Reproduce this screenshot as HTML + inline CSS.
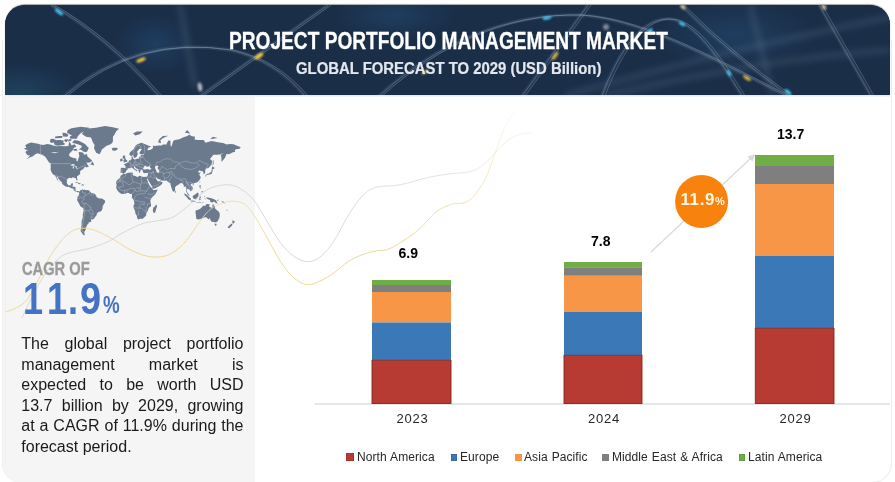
<!DOCTYPE html>
<html><head><meta charset="utf-8">
<style>
html,body{margin:0;padding:0;}
body{width:895px;height:482px;overflow:hidden;background:#fff;position:relative;font-family:"Liberation Sans",sans-serif;}
.abs{position:absolute;}
#card{left:2px;top:40px;width:888px;height:442px;border:1px solid #ededed;border-top:none;border-radius:0 0 20px 20px;background:#fff;}
#panel{left:2px;top:96px;width:253px;height:387px;background:#f5f5f5;border-bottom-left-radius:20px;box-shadow:inset 1px 0 0 #f0f0f0;}
#pline{left:5px;top:96px;width:1px;height:370px;background:#efefef;}
#header{left:5px;top:4.6px;width:885px;height:90.4px;border-radius:20px 20px 0 0;background:#172c48;overflow:hidden;box-shadow:0 -1px 1px rgba(0,0,0,0.35);}
.title{white-space:nowrap;color:#fff;font-weight:bold;transform-origin:0 0;}
#t1{left:229px;top:26.8px;font-size:24px;transform:scaleX(0.797);-webkit-text-stroke:0.3px #fff;}
#t2{left:295.5px;top:60px;-webkit-text-stroke:0.2px #e4e8ee;font-size:16px;color:#e4e8ee;transform:scaleX(0.93);}
.val{font-size:14px;font-weight:bold;color:#000;white-space:nowrap;}
.yr{font-size:13px;color:#262626;white-space:nowrap;letter-spacing:0.8px;}
.leg{font-size:12px;color:#262626;white-space:nowrap;top:449.7px;letter-spacing:0.08px;word-spacing:0.6px;}
.sq{width:7px;height:7px;top:454px;}
#para{left:21.3px;top:334.4px;width:222.2px;font-size:16px;line-height:20.5px;color:#1a1a1a;}
.pl{text-align:justify;text-align-last:justify;white-space:nowrap;height:20.5px;}
.pl.last{text-align-last:left;}
#cagr{left:21.7px;top:258.2px;font-size:19px;font-weight:bold;color:#9a9a9a;transform-origin:0 0;transform:scaleX(0.772);white-space:nowrap;-webkit-text-stroke:0.35px #9a9a9a;}
.dg{top:274px;font-size:44px;font-weight:bold;color:#4472c4;white-space:nowrap;transform-origin:0 0;transform:scaleX(0.82);}
#pct{left:103px;top:291px;font-size:24px;font-weight:bold;color:#4472c4;transform-origin:0 0;transform:scaleX(0.78);}
</style></head><body>
<div id="card" class="abs"></div>
<div id="panel" class="abs"></div><div id="pline" class="abs"></div>
<div id="header" class="abs">
<svg width="885" height="91" style="position:absolute;left:0;top:0">
<defs>
<filter id="bl4" x="-50%" y="-50%" width="200%" height="200%"><feGaussianBlur stdDeviation="3"/></filter>
<filter id="bl2" x="-50%" y="-50%" width="200%" height="200%"><feGaussianBlur stdDeviation="1.6"/></filter>
<filter id="bl1" x="-100%" y="-100%" width="300%" height="300%"><feGaussianBlur stdDeviation="0.9"/></filter>
<radialGradient id="glow1" cx="0.5" cy="0.5" r="0.5"><stop offset="0" stop-color="#2a6a8a" stop-opacity="0.55"/><stop offset="1" stop-color="#2a6a8a" stop-opacity="0"/></radialGradient>
<radialGradient id="glow2" cx="0.5" cy="0.5" r="0.5"><stop offset="0" stop-color="#2b5a8a" stop-opacity="0.35"/><stop offset="1" stop-color="#2b5a8a" stop-opacity="0"/></radialGradient>
</defs>
<rect width="885" height="91" fill="#1a2e48"/>
<ellipse cx="15" cy="88" rx="60" ry="30" fill="url(#glow1)" opacity="0.6"/>
<ellipse cx="150" cy="39" rx="40" ry="30" fill="url(#glow2)"/>
<ellipse cx="390" cy="10" rx="60" ry="25" fill="url(#glow2)"/>
<ellipse cx="730" cy="30" rx="80" ry="35" fill="url(#glow2)"/>
<g fill="none" stroke="#7d93ad" stroke-opacity="0.22" stroke-width="5" filter="url(#bl4)">
<path d="M175 0 L190 82"/>
<path d="M745 0 L768 91"/>
<path d="M560 91 Q700 50 885 12"/>
<path d="M600 91 Q750 55 885 45"/>
</g>
<g fill="none" stroke="#9fb6d0" stroke-opacity="0.10" stroke-width="4"><path d="M46 0 Q100 30 154 91"/><path d="M59 91 Q130 30 225 45 Q270 55 300 91"/><path d="M195 91 L323 0"/><path d="M374 91 C430 40 500 8 575 10 C640 14 720 60 791 96"/><path d="M517 91 L583 0"/><path d="M595 96 C615 40 640 12 665 14 C690 16 715 55 737 91"/><path d="M676 0 Q720 45 791 96"/><path d="M814 0 L866 91"/></g>
<g fill="none" stroke="#b4c6dc" stroke-opacity="0.32" stroke-width="0.9"><path d="M46 0 Q100 30 154 91"/><path d="M46 0 Q100 30 154 91" transform="translate(3.2 0)"/><path d="M59 91 Q130 30 225 45 Q270 55 300 91"/><path d="M59 91 Q130 30 225 45 Q270 55 300 91" transform="translate(3.2 0)"/><path d="M195 91 L323 0"/><path d="M195 91 L323 0" transform="translate(3.2 0)"/><path d="M374 91 C430 40 500 8 575 10 C640 14 720 60 791 96"/><path d="M374 91 C430 40 500 8 575 10 C640 14 720 60 791 96" transform="translate(3.2 0)"/><path d="M517 91 L583 0"/><path d="M517 91 L583 0" transform="translate(3.2 0)"/><path d="M595 96 C615 40 640 12 665 14 C690 16 715 55 737 91"/><path d="M595 96 C615 40 640 12 665 14 C690 16 715 55 737 91" transform="translate(3.2 0)"/><path d="M676 0 Q720 45 791 96"/><path d="M676 0 Q720 45 791 96" transform="translate(3.2 0)"/><path d="M814 0 L866 91"/><path d="M814 0 L866 91" transform="translate(3.2 0)"/></g>
<g filter="url(#bl1)">
<ellipse cx="54" cy="7" rx="5" ry="1.6" fill="#40d0ff" opacity="1" transform="rotate(38 54 7)"/>
<ellipse cx="136" cy="55" rx="5" ry="1.8" fill="#f0c040" opacity="1" transform="rotate(-22 136 55)"/>
<ellipse cx="195" cy="82" rx="2.2" ry="4.5" fill="#e0e0e0" opacity="0.75" transform="rotate(-10 195 82)"/>
<ellipse cx="254" cy="51" rx="5" ry="2" fill="#f0c840" opacity="1" transform="rotate(-35 254 51)"/>
<ellipse cx="420" cy="67" rx="4" ry="1.5" fill="#f0c840" opacity="0.7" transform="rotate(-35 420 67)"/>
<ellipse cx="542" cy="13" rx="4.5" ry="1.5" fill="#40d0ff" opacity="1" transform="rotate(-8 542 13)"/>
<ellipse cx="550" cy="51" rx="5" ry="1.8" fill="#f0c840" opacity="0.85" transform="rotate(-55 550 51)"/>
<ellipse cx="601" cy="22" rx="3" ry="3" fill="#e0e0e0" opacity="0.5" transform="rotate(0 601 22)"/>
<ellipse cx="645" cy="26" rx="3.5" ry="1.4" fill="#40d0ff" opacity="1" transform="rotate(-50 645 26)"/>
<ellipse cx="677" cy="19" rx="3.5" ry="1.4" fill="#40d0ff" opacity="1" transform="rotate(30 677 19)"/>
<ellipse cx="724" cy="68" rx="3.5" ry="1.4" fill="#40d0ff" opacity="1" transform="rotate(62 724 68)"/>
<ellipse cx="742" cy="73" rx="4.5" ry="1.8" fill="#f0c840" opacity="0.85" transform="rotate(35 742 73)"/>
<ellipse cx="783" cy="87" rx="4" ry="1.6" fill="#40d0ff" opacity="1" transform="rotate(40 783 87)"/>
<ellipse cx="678" cy="2" rx="3" ry="2" fill="#f0d0a0" opacity="0.8" transform="rotate(40 678 2)"/>
<ellipse cx="819" cy="2" rx="3" ry="2" fill="#f0d0a0" opacity="0.8" transform="rotate(60 819 2)"/>
</g>
</svg>
</div>
<div class="abs" style="left:5px;top:95px;width:885px;height:1.5px;background:linear-gradient(#dde8f1,#f3f7fa)"></div>
<div id="t1" class="abs title">PROJECT PORTFOLIO MANAGEMENT MARKET</div>
<div id="t2" class="abs title">GLOBAL FORECAST TO 2029 (USD Billion)</div>

<svg class="abs" style="left:0;top:0" width="895" height="482">
<path fill="#6c7a8e" d="M25.2 145.6L27.0 143.9L31.0 142.5L33.7 143.0L38.0 143.8L40.4 144.4L43.5 145.0L47.1 143.9L50.2 144.5L53.2 145.6L56.3 146.3L60.5 146.1L65.4 146.3L68.5 146.1L69.1 141.9L70.3 142.8L71.5 145.6L74.5 144.2L76.4 146.7L73.9 147.7L72.7 150.2L69.7 153.2L68.8 155.0L70.3 156.8L72.7 157.7L76.4 158.6L76.4 160.7L77.6 161.5L78.2 159.0L79.4 155.9L78.8 153.6L78.8 151.9L81.9 152.2L83.7 153.2L84.0 155.0L86.7 153.8L87.3 155.9L88.9 157.7L91.6 159.9L92.2 161.1L89.8 162.6L86.1 162.8L87.0 163.6L87.0 164.0L88.6 166.1L89.8 165.7L87.6 167.1L86.1 167.6L85.8 166.7L84.9 167.2L83.7 167.7L83.4 169.2L81.2 170.1L80.3 171.2L80.0 172.7L80.3 173.9L78.8 174.9L77.0 176.5L77.0 178.2L77.6 179.7L77.3 180.8L76.4 179.9L75.8 178.2L74.5 177.7L72.7 177.3L71.8 178.2L70.9 178.0L69.1 177.8L67.1 179.2L66.9 180.9L66.8 183.0L67.8 184.8L68.8 185.4L70.9 185.0L71.2 183.5L73.0 183.2L72.8 185.2L72.5 186.8L74.5 186.8L75.6 187.4L75.5 189.9L76.4 191.2L77.9 190.9L79.2 191.5L78.9 192.3L77.6 192.3L75.8 191.6L74.1 190.6L73.0 188.7L70.6 188.0L68.8 186.7L67.2 186.9L64.8 186.0L62.2 184.0L62.1 182.6L60.5 180.9L58.7 179.0L57.6 176.5L56.5 176.9L57.5 178.6L58.1 180.9L59.3 182.2L58.1 181.2L56.9 179.2L56.3 177.8L55.1 175.8L54.1 174.8L52.9 174.4L52.0 172.7L50.9 170.9L50.6 169.0L50.8 166.0L50.4 164.1L51.4 163.6L49.0 162.4L47.1 159.4L45.3 156.8L42.9 155.2L41.1 154.4L37.4 153.3L35.0 154.6L33.7 155.5L32.5 156.4L30.1 157.3L27.7 158.6L26.1 159.0L28.3 157.4L30.1 155.5L27.7 155.3L26.1 153.6L25.5 152.2L26.1 151.0L28.3 150.0L25.2 149.6L24.0 148.6L26.4 147.7ZM88.9 147.7L87.3 151.2L86.1 152.2L83.1 151.4L81.2 149.7L78.8 149.9L81.9 146.7L81.2 145.6L77.0 143.9L72.1 142.8L74.5 139.9L78.8 140.8L83.7 143.2L85.5 144.5L87.9 147.2ZM53.8 142.5L54.8 145.0L57.5 145.7L61.8 145.3L64.5 144.8L64.9 143.4L63.0 142.2L64.1 140.7L60.5 140.1L56.9 140.1L54.1 141.1ZM69.7 134.2L72.7 136.1L77.6 136.4L80.3 133.5L83.7 131.4L87.9 129.2L89.2 127.7L80.6 126.8L71.5 128.2L67.8 130.0L67.8 132.8ZM49.9 141.8L51.4 142.9L54.1 142.2L56.0 140.1L53.5 138.8L50.5 139.0ZM70.3 138.7L77.0 138.7L77.6 136.5L71.5 135.8L69.7 136.4ZM68.2 141.7L71.5 140.5L71.5 139.2L68.5 139.3ZM55.1 138.3L62.1 138.0L62.4 136.1L59.3 135.9L55.1 136.4ZM63.0 136.5L67.2 136.8L68.5 134.8L65.4 133.1L62.4 132.8ZM67.2 133.5L70.9 133.5L70.9 130.0L67.2 130.7ZM64.2 141.1L66.6 142.2L67.8 140.8L67.8 139.3L64.8 139.3ZM73.9 150.7L77.6 150.7L76.4 148.7L73.3 149.2ZM81.9 133.9L86.1 136.7L91.0 137.4L92.8 142.2L94.6 145.0L94.0 148.2L96.2 152.7L99.5 154.3L100.7 152.2L102.0 149.2L103.5 148.2L106.2 146.1L111.1 143.9L112.9 141.7L112.9 136.8L114.7 134.2L116.0 131.4L119.0 128.8L112.9 127.3L105.0 126.0L95.9 127.7L88.6 128.5L83.7 131.4ZM111.7 148.7L112.9 147.8L116.6 147.7L118.1 149.0L115.3 150.8L112.6 150.4ZM90.2 164.7L92.5 161.5L94.0 164.4L94.0 165.4L92.2 164.8ZM74.5 183.0L76.4 182.2L79.4 182.9L81.1 184.1L79.1 184.3L77.6 183.0L75.2 183.1ZM80.9 185.2L82.5 184.3L84.6 185.1L83.1 185.5ZM79.2 191.5L80.0 191.0L80.3 190.3L81.9 189.7L82.8 189.1L83.1 189.9L84.3 189.6L86.1 190.2L87.9 190.1L89.2 190.6L89.8 191.5L91.6 193.1L94.0 193.4L95.3 194.3L95.9 195.7L97.1 197.4L99.5 198.4L102.0 198.6L103.8 199.7L105.0 200.6L105.0 202.4L103.8 204.3L102.6 206.2L102.6 208.2L101.6 210.4L100.7 211.4L98.9 211.8L96.8 213.4L96.7 215.1L95.3 216.8L94.0 218.7L92.8 219.6L91.0 219.2L91.3 221.7L88.6 222.4L88.4 223.9L86.7 225.0L87.0 225.4L86.4 226.9L85.2 228.1L86.1 229.3L84.6 231.3L84.3 232.9L84.6 234.6L85.5 235.1L83.7 235.3L82.5 233.8L80.6 230.9L81.2 227.7L81.6 224.6L81.6 221.0L82.8 217.5L82.8 214.7L83.6 210.7L83.4 208.2L80.3 206.2L79.4 204.3L77.9 201.5L77.0 199.9L77.6 198.1L77.3 197.1L78.3 195.9L79.2 194.3L79.1 192.5ZM120.5 172.7L120.8 168.3L121.4 167.7L125.4 168.0L125.6 166.0L123.6 164.4L125.4 163.8L127.2 162.8L128.4 161.7L129.4 160.3L131.5 159.6L131.5 158.1L131.3 156.8L132.7 156.3L132.7 157.7L133.6 159.0L134.8 159.4L137.3 158.8L139.1 158.6L139.1 156.8L140.9 156.4L140.6 154.8L143.4 154.6L144.6 154.1L140.3 154.1L139.4 153.6L139.7 152.2L141.8 149.2L139.7 148.4L137.0 151.7L137.9 154.1L137.3 155.0L136.4 157.3L134.2 158.1L133.6 156.4L133.0 155.0L131.2 155.9L129.7 155.2L129.4 153.2L130.6 151.7L133.6 149.2L135.4 146.1L137.3 144.2L141.5 142.8L144.6 143.9L146.4 144.7L151.3 146.7L148.2 147.7L147.3 150.2L149.5 149.9L150.7 149.7L153.1 147.9L152.8 145.6L154.3 146.1L158.6 145.6L161.6 145.4L162.9 144.5L166.5 144.5L167.1 142.8L168.3 140.5L170.5 140.7L170.5 145.6L171.4 146.7L173.2 141.1L175.0 139.9L179.3 139.3L182.9 137.4L187.2 136.1L189.6 134.6L191.2 136.1L195.1 136.8L194.5 139.6L198.2 139.9L203.7 139.9L205.5 142.8L211.6 141.1L217.7 142.2L223.1 143.0L226.8 144.4L229.8 143.9L233.5 144.2L235.9 145.3L240.8 147.2L239.6 148.7L235.9 149.2L234.7 150.2L235.3 151.7L232.3 152.4L229.8 154.1L226.2 154.3L225.6 156.4L225.0 157.7L221.6 162.0L221.3 156.8L220.7 155.0L223.8 152.7L220.1 154.6L217.1 154.7L213.4 154.7L210.0 159.0L212.2 161.1L211.6 164.4L208.5 167.9L206.1 168.6L205.2 170.1L205.2 173.0L203.4 174.4L203.4 172.3L202.4 170.9L200.3 171.2L200.3 169.9L198.2 171.2L198.8 172.7L200.9 172.7L199.1 174.4L200.5 176.5L200.6 178.2L199.1 180.6L197.3 182.2L193.9 183.2L193.3 183.9L192.1 183.2L190.9 184.2L190.6 185.2L192.6 187.1L192.7 189.6L190.3 191.4L190.0 190.3L187.5 188.4L186.7 190.6L187.4 192.8L189.3 194.9L189.6 196.0L187.8 195.1L186.3 191.8L186.2 189.3L185.7 186.4L183.9 186.8L183.6 184.8L182.3 183.2L180.5 182.9L179.0 184.2L176.2 186.1L175.0 187.4L175.2 190.4L173.8 191.8L172.9 191.5L171.4 187.7L170.6 184.8L170.5 183.2L168.9 182.6L168.0 181.9L166.8 180.6L164.1 180.8L161.2 180.4L160.6 179.6L158.0 179.0L156.8 177.6L155.5 177.6L156.5 179.6L157.7 181.2L159.2 181.4L160.4 180.1L160.7 181.6L162.7 182.6L161.9 183.9L160.1 185.8L158.0 186.8L155.8 188.0L153.7 188.8L152.7 188.9L152.3 187.1L150.1 183.2L148.8 180.9L147.6 178.9L147.3 177.9L146.1 177.6L147.3 176.5L147.6 175.5L148.2 173.4L147.3 172.8L144.9 173.2L143.4 172.8L142.8 171.6L142.5 170.3L142.1 169.8L140.9 169.9L140.3 170.9L140.0 173.0L139.4 172.7L138.5 170.7L138.2 169.2L135.8 167.9L134.5 166.2L133.8 166.5L133.9 167.5L134.8 168.8L136.1 169.5L137.6 170.3L136.4 170.9L136.1 171.9L135.8 170.5L133.6 169.0L132.7 168.3L131.5 167.3L130.3 168.2L128.3 168.0L128.3 169.0L126.6 170.1L126.0 171.6L125.1 172.8L123.0 173.4L122.4 172.8ZM116.0 183.5L116.3 181.6L117.5 179.9L118.4 179.0L120.3 177.7L120.5 175.8L122.4 174.8L123.0 173.5L125.1 173.9L128.1 172.8L132.4 172.4L133.0 173.7L132.5 174.8L133.3 175.5L135.4 176.0L137.9 177.3L138.5 176.2L140.3 175.8L141.5 176.4L144.0 176.9L145.8 176.7L147.2 176.7L147.6 177.9L146.7 179.2L147.9 181.6L149.0 184.8L149.8 185.5L150.7 187.1L152.7 189.0L153.1 190.3L157.5 189.4L157.4 190.3L155.5 194.0L151.9 197.4L150.4 199.9L150.4 201.8L151.0 203.7L151.0 206.2L148.8 207.8L147.8 210.7L146.4 213.3L146.1 215.4L144.9 216.8L142.8 218.7L140.0 218.8L138.5 219.4L137.5 218.7L136.7 215.7L135.4 213.4L135.1 211.1L133.5 207.8L133.6 205.3L134.5 203.7L133.8 200.6L131.8 197.4L132.1 194.6L131.5 194.0L130.0 194.1L129.1 192.9L127.2 193.0L125.1 193.8L121.7 194.1L119.3 192.5L118.1 191.2L117.2 189.9L116.0 187.5L116.3 186.4L116.6 184.5ZM156.3 204.3L157.1 206.6L156.5 207.8L155.2 212.6L153.7 213.1L152.8 210.7L153.3 207.5L154.9 206.6ZM122.8 162.8L127.2 161.8L127.3 160.5L126.3 159.9L125.1 157.8L125.2 156.3L124.5 155.4L123.3 155.4L122.5 157.0L123.3 158.6L124.5 159.4L123.6 160.0L123.3 161.4L124.5 161.7ZM120.2 161.5L122.7 161.1L122.7 159.4L121.7 158.3L120.2 159.3ZM175.0 190.7L176.1 192.1L175.3 193.1L174.9 191.8ZM206.0 174.9L208.5 174.8L211.6 174.1L212.2 171.9L212.8 170.5L212.5 169.5L211.6 170.1L211.3 171.9L209.7 172.7L209.1 173.6L207.3 173.7L206.1 174.4ZM211.6 169.4L212.2 166.4L214.9 168.0L213.4 169.0ZM205.3 175.1L206.4 174.9L206.1 176.7L205.5 176.6ZM199.7 182.9L200.5 180.9L199.5 181.9ZM199.4 185.2L200.9 185.3L200.3 187.4L201.8 188.7L199.7 188.0ZM200.6 192.5L203.0 192.1L203.4 191.2L201.5 191.5ZM184.3 193.3L186.0 194.3L189.6 197.4L190.9 198.7L190.7 200.4L188.4 199.3L186.6 197.1L184.5 194.9ZM190.4 201.1L192.1 200.6L194.5 201.1L196.0 201.7L192.1 201.7ZM192.7 195.9L193.9 195.3L195.4 194.3L197.6 192.5L198.8 193.7L198.2 196.2L197.3 198.1L197.0 199.3L193.6 198.7L192.7 197.1ZM199.1 200.2L199.7 196.5L202.1 196.0L200.0 196.2L201.2 197.3L200.0 198.1L201.2 199.9L200.0 199.6L199.7 200.2ZM206.1 197.4L207.9 197.4L210.4 197.9L212.2 198.4L214.6 199.5L216.1 200.6L217.7 203.4L215.8 203.1L214.0 201.6L212.2 202.4L210.4 202.0L210.0 199.9L208.5 199.5L206.7 198.6ZM195.4 210.7L195.7 213.4L196.3 218.8L198.2 219.6L201.5 218.7L204.9 217.2L206.7 217.5L208.5 219.4L210.0 218.1L210.4 219.9L211.6 221.7L214.0 222.1L215.5 222.4L217.7 221.3L219.5 217.5L219.8 214.7L219.5 212.7L218.0 211.1L215.2 208.8L214.8 206.2L213.7 205.6L213.1 203.5L212.5 205.0L212.5 207.5L211.3 207.8L209.1 206.6L209.7 204.3L207.3 204.0L205.8 204.6L205.2 206.2L203.4 205.6L201.8 207.2L200.6 208.5L198.8 209.4L197.3 209.9ZM196.0 201.9L197.3 201.9L197.3 202.4L196.0 202.3ZM197.6 201.9L201.1 201.9L201.1 202.4L197.6 202.5ZM201.5 202.9L203.8 202.0L203.7 202.4L201.8 203.3ZM192.4 184.7L193.6 184.1L193.9 184.5L193.0 185.4ZM221.3 200.9L223.8 201.8L225.0 203.4L223.1 202.8L221.6 201.5ZM226.2 209.6L228.0 210.7L227.7 211.1L226.2 210.0ZM216.7 200.2L218.9 199.4L219.0 199.9L217.7 200.7ZM204.0 195.7L204.6 195.9L204.4 197.3L204.0 197.1ZM204.3 198.7L206.0 198.7L206.0 199.2L204.3 199.1ZM214.4 223.7L216.6 223.8L216.4 225.4L215.2 225.8ZM231.5 219.2L232.9 220.6L235.0 221.5L234.1 222.8L232.9 224.3L232.6 222.8L232.2 222.4L232.6 220.8ZM231.5 223.5L232.5 224.4L231.7 226.0L230.5 226.9L229.2 228.2L227.7 227.7L228.6 226.1L230.5 224.6ZM133.0 133.5L136.7 131.4L142.8 131.4L139.7 134.2L135.4 135.5ZM158.0 142.2L161.0 143.2L160.4 139.9L164.1 137.4L168.3 135.8L162.9 136.1L159.2 139.3ZM184.8 132.8L190.3 133.5L187.2 130.0ZM210.4 139.3L217.7 138.0L212.8 136.8ZM212.8 166.0L213.7 163.6L213.4 159.4L212.8 161.1Z"/>
<path fill="#f5f5f5" d="M143.4 169.4L143.1 168.3L143.7 167.5L144.9 165.6L146.4 166.0L146.7 167.1L148.5 166.5L149.8 165.2L150.4 165.2L149.5 166.7L151.6 169.0L149.5 169.8L147.6 169.0L145.2 169.6ZM154.9 166.7L156.8 165.6L158.6 166.3L157.4 167.9L158.3 169.2L159.2 170.5L159.2 172.4L156.8 172.7L156.3 170.5L155.2 168.6ZM70.3 165.4L72.7 164.0L74.5 164.4L74.9 165.6L72.7 165.7ZM73.0 169.2L73.9 167.5L74.5 166.0L72.7 166.7L72.8 168.3ZM75.2 166.0L77.3 166.7L76.4 167.9L75.5 167.1ZM75.8 169.0L78.2 168.4L78.2 167.9L76.7 168.4ZM50.2 152.2L56.3 152.2L59.3 151.7L55.1 153.2ZM53.2 147.7L54.5 147.2L52.0 148.2Z"/>
<path fill="none" stroke="#e8ecf2" stroke-opacity="0.6" stroke-width="0.45" stroke-linejoin="round" d="M51.4 163.6L68.5 163.6L68.5 163.3L71.8 164.4L74.9 165.6L76.1 166.7L76.1 169.0L78.2 168.3L80.0 167.5L80.9 166.7L83.1 166.7L84.3 164.9L85.0 165.2L85.5 166.7M40.4 144.4L40.4 153.8L42.9 155.0L45.3 158.6M55.1 175.8L56.5 175.7L58.7 176.7L60.5 176.7L61.5 176.3L63.6 178.2L64.5 177.7L65.7 179.2L67.1 180.3M70.3 187.1L72.1 185.6M72.1 187.7L73.9 189.0L75.5 189.9M89.8 193.7L87.3 194.3L85.5 195.6L83.7 196.2L84.0 199.4L81.9 201.5L82.2 203.1L84.0 203.7L86.1 203.1L86.7 204.3L88.9 205.3L89.8 207.2L91.0 207.2L91.0 209.4L92.5 211.1L93.1 213.1L93.5 214.1L91.6 216.1L93.7 218.5M84.6 210.7L84.6 214.1L83.7 217.5L83.1 223.1L82.6 226.1L82.2 229.3L81.9 230.9L84.3 232.5M84.0 203.7L84.3 206.2L84.0 207.8L84.6 210.7L88.2 210.7L91.0 209.4M82.8 189.3L82.2 192.5L85.2 193.1L85.5 195.6M78.2 196.0L80.6 196.8L83.7 199.3M77.6 199.0L78.8 198.7L80.3 197.8M89.8 191.5L89.2 193.7M91.6 193.1L91.0 195.9M93.4 193.3L93.1 195.6M91.3 216.1L91.0 218.8M88.2 210.7L89.8 212.7L91.0 214.1L92.8 214.1M143.4 144.5L144.6 146.7L144.3 152.7L143.4 154.6M143.4 157.7L145.8 160.7L149.5 162.8L150.7 164.4L149.8 165.2M155.2 166.3L156.8 162.0L159.8 162.0L163.5 159.4L167.7 158.6L170.8 159.4L173.8 162.0L177.5 162.0L179.3 163.6M179.3 163.6L181.1 162.4L186.0 161.1L192.1 163.2L197.0 162.8L199.4 160.3L203.7 162.8L208.5 164.4L206.1 168.3L205.8 168.6M179.3 163.6L181.7 166.7L184.8 168.5L190.3 169.4L194.5 168.6L199.4 165.2L197.0 162.8M158.6 169.4L160.4 169.5L161.9 166.3L164.1 167.9L167.7 169.8L169.6 168.4L175.0 168.6L175.3 166.7L176.9 165.2L179.3 163.6M171.1 170.9L172.0 172.7L173.8 174.1L174.4 175.8L175.6 177.6L179.9 179.2L182.3 179.0L185.4 178.7L186.3 180.9L186.0 182.9L187.8 183.2L189.0 182.4L191.3 182.4L192.1 183.2M158.9 172.4L161.0 171.9L163.5 173.0L164.4 173.9L165.6 172.7L167.4 172.4L169.9 172.7L171.1 170.9M153.1 170.9L153.7 174.1L154.3 175.5L155.5 177.6M163.5 173.0L163.2 175.1L163.5 176.5L164.7 177.9L163.8 180.8M169.9 172.7L169.6 174.8L168.6 176.9L166.8 177.9L164.7 177.9M171.1 173.4L172.3 175.8L171.4 177.6L169.6 178.9L169.6 181.2L168.0 181.8M179.9 179.2L180.8 180.3L182.6 180.9L183.6 182.2L182.5 183.5M186.3 180.9L187.8 184.2L186.3 186.4L186.3 190.6M187.8 183.2L189.6 185.5L191.5 187.7L190.9 189.9M187.8 184.2L189.6 186.8L189.0 188.7L190.3 191.4M148.2 173.0L151.9 172.7L153.4 172.3L153.1 170.9M147.6 177.9L149.1 177.6L150.1 176.2L153.1 178.2L155.2 178.2M152.3 186.1L154.6 186.1L158.0 184.8L160.1 182.9L160.4 181.6M150.1 176.2L151.3 174.4L151.9 172.7M125.2 168.0L128.3 168.6M122.0 169.0L122.0 172.3M127.8 162.0L130.0 163.2L131.2 163.6L130.9 164.8L130.0 165.8L130.6 167.5M135.0 159.4L135.3 162.0L133.6 162.5L134.7 163.8L133.9 164.7L132.1 164.8L130.9 164.8M130.6 160.0L130.0 161.3L130.0 162.8M131.5 158.7L132.4 158.8M130.6 166.0L132.7 165.6L134.7 165.6M134.7 163.8L136.7 164.4L136.4 165.6L134.7 165.6M140.6 159.2L140.6 161.1L140.9 162.4L140.0 163.6M135.3 162.0L137.6 162.8L140.0 163.6M140.0 164.4L142.5 164.1L143.5 166.3M136.7 164.4L140.0 164.4M136.4 165.6L138.5 166.0L140.0 167.1L143.4 167.6M138.2 169.2L139.7 169.5L142.5 169.4M139.1 156.8L143.4 157.7M139.1 158.6L142.1 157.7M140.9 156.4L143.1 156.4L143.4 154.6M133.6 155.0L133.9 152.7L133.6 150.4L135.1 148.2L137.3 145.6L138.8 145.0M140.9 148.4L140.6 146.1L138.8 145.0M125.3 174.1L125.4 176.2L121.0 179.1M118.4 179.1L121.0 179.1L121.0 180.3L119.0 180.3L119.0 182.0L116.0 183.3M119.0 182.0L122.7 180.9L123.3 186.4L119.0 187.5L116.3 186.6M131.5 172.8L131.2 175.5L132.1 177.6L132.4 181.0L133.6 181.9L135.4 182.2M123.4 180.9L126.9 183.5L128.7 184.7L130.0 184.5L133.6 181.9M141.5 176.4L141.5 182.9L140.9 184.2M141.5 182.9L148.8 182.9M135.4 182.2L140.9 184.5L140.9 184.2M140.9 184.5L140.0 188.7L140.6 190.9M140.6 190.9L147.0 190.9L148.5 187.8L149.8 185.5M155.5 191.8L153.7 193.7L151.3 194.3L150.1 194.6L147.9 193.7M151.3 197.9L149.2 198.7L147.0 197.4L144.6 197.4M133.9 199.9L136.4 200.6L140.9 201.8L144.6 202.1L144.0 205.0L140.9 203.7L139.7 205.0M144.6 193.7L142.8 193.7L137.6 194.3L136.1 195.6L134.8 197.4L133.6 199.9M128.5 189.5L130.6 188.4L134.5 188.4L135.1 189.3L134.2 191.8L132.4 193.1L131.6 194.0M119.0 187.5L119.3 189.0L121.4 190.4L123.3 190.6L126.6 189.9L128.5 189.5M124.5 193.7L124.6 189.9M127.0 193.0L126.9 189.9M139.7 205.0L139.7 207.2L138.9 208.2L133.5 207.7M138.5 210.7L138.5 212.5L138.5 215.1L136.4 215.1M138.9 208.2L141.5 208.0L144.0 210.9L145.8 210.7M144.9 206.6L146.4 207.5L146.1 210.1L145.8 213.7M151.0 203.4L147.3 204.0L147.6 206.2M135.1 189.3L135.8 191.2L137.3 191.8L140.0 190.6M140.0 188.7L136.1 187.4M144.6 193.7L147.0 190.9"/>
<defs>
<linearGradient id="yfade" gradientUnits="userSpaceOnUse" x1="0" y1="240" x2="0" y2="100"><stop offset="0" stop-color="#ecd78f" stop-opacity="0.95"/><stop offset="0.5" stop-color="#efdd9f" stop-opacity="0.6"/><stop offset="1" stop-color="#efdd9f" stop-opacity="0.08"/></linearGradient>
<linearGradient id="gfade" gradientUnits="userSpaceOnUse" x1="300" y1="0" x2="540" y2="0"><stop offset="0" stop-color="#d4d4d4" stop-opacity="0.9"/><stop offset="0.6" stop-color="#d8d8d8" stop-opacity="0.7"/><stop offset="1" stop-color="#dadada" stop-opacity="0.25"/></linearGradient>
</defs>
<g fill="none" stroke-width="1">
<path stroke="url(#gfade)" d="M22.0 318.0 C23.7 314.5 28.0 304.5 32.0 297.0 C36.0 289.5 41.2 279.3 45.8 272.8 C50.3 266.3 55.2 261.4 59.3 258.0 C63.3 254.6 65.1 254.2 70.1 252.6 C75.0 251.0 82.7 250.3 89.0 248.5 C95.3 246.7 102.7 244.2 107.9 241.8 C113.1 239.4 115.9 236.6 120.0 234.3 C124.1 232.0 128.2 229.9 132.4 228.0 C136.6 226.1 140.1 224.2 144.9 222.9 C149.8 221.6 156.7 221.2 161.5 220.2 C166.3 219.2 169.8 218.8 173.9 216.7 C178.1 214.5 182.9 210.1 186.4 207.3 C189.9 204.5 191.2 202.9 194.7 200.0 C198.1 197.1 202.9 192.1 207.1 189.7 C211.2 187.3 215.8 186.4 219.6 185.6 C223.4 184.8 226.6 184.4 230.0 184.9 C233.4 185.4 236.4 186.2 240.3 188.7 C244.2 191.2 249.1 194.3 253.5 199.7 C257.9 205.1 262.5 214.1 267.0 221.3 C271.5 228.5 276.0 237.1 280.5 242.9 C285.0 248.7 289.5 253.2 294.0 256.3 C298.5 259.4 303.0 261.7 307.5 261.7 C312.0 261.7 316.5 259.9 321.0 256.3 C325.5 252.7 329.9 246.9 334.4 240.2 C338.9 233.5 343.5 223.1 348.0 215.9 C352.5 208.7 356.9 201.7 361.4 197.0 C365.9 192.3 368.6 189.5 375.0 187.5 C381.4 185.5 391.4 186.4 400.0 184.8 C408.6 183.2 418.6 179.6 426.7 177.8 C434.8 176.0 441.2 175.0 448.5 174.0 C455.8 173.0 464.6 173.0 470.3 171.6 C476.0 170.2 478.6 168.5 482.7 165.4 C486.8 162.3 491.0 157.1 495.2 152.9 C499.4 148.8 503.5 143.6 507.6 140.5 C511.7 137.4 515.9 135.5 520.0 134.2 C524.1 132.9 530.4 132.9 532.5 132.7"/>
<path stroke="url(#yfade)" d="M5.4 312.0 C7.2 311.3 12.6 309.9 16.2 307.9 C19.8 305.9 23.4 304.3 27.0 299.8 C30.6 295.3 34.2 287.8 37.8 281.0 C41.4 274.2 44.9 265.6 48.5 259.3 C52.1 253.0 55.7 247.6 59.3 243.1 C62.9 238.6 66.5 234.9 70.1 232.4 C73.7 229.9 76.9 228.7 80.9 228.3 C85.0 227.9 89.9 228.8 94.4 230.2 C98.9 231.5 103.6 234.2 107.9 236.4 C112.2 238.6 115.9 241.2 120.0 243.6 C124.1 246.0 127.9 248.8 132.4 250.9 C136.9 253.0 142.2 255.1 147.0 256.1 C151.8 257.1 157.0 257.4 161.5 256.7 C166.0 256.0 169.8 254.6 173.9 251.9 C178.1 249.2 182.2 245.3 186.4 240.5 C190.6 235.7 195.0 227.9 198.8 222.9 C202.6 217.9 205.7 213.5 209.2 210.4 C212.7 207.3 215.8 205.8 219.6 204.2 C223.4 202.6 227.8 201.1 232.0 201.1 C236.2 201.1 240.9 202.0 244.5 204.2 C248.1 206.4 249.8 208.9 253.5 214.5 C257.2 220.1 262.5 229.6 267.0 237.5 C271.5 245.4 276.0 254.9 280.5 261.7 C285.0 268.4 289.5 274.2 294.0 278.0 C298.5 281.8 303.0 284.3 307.5 284.7 C312.0 285.1 316.5 282.6 321.0 280.6 C325.5 278.6 329.9 275.6 334.4 272.5 C338.9 269.4 343.5 264.6 348.0 261.7 C352.5 258.8 356.9 256.8 361.4 255.0 C365.9 253.2 370.1 252.2 375.0 251.0 C379.9 249.8 383.9 251.4 391.0 248.0 C398.1 244.6 409.9 236.7 417.4 230.7 C424.9 224.7 430.3 216.4 436.0 212.0 C441.7 207.6 446.9 205.9 451.6 204.3 C456.3 202.8 460.4 204.0 464.0 202.7 C467.6 201.4 469.8 200.7 473.4 196.5 C477.0 192.3 482.2 185.1 485.8 177.8 C489.4 170.5 492.1 161.2 495.2 152.9 C498.3 144.6 501.4 134.7 504.5 128.0 C507.6 121.3 511.3 116.1 513.9 112.5 C516.5 108.9 519.0 107.2 520.0 106.2"/>
</g>
</svg>

<div id="cagr" class="abs">CAGR OF</div>
<div class="abs dg" style="left:23.4px">1</div><div class="abs dg" style="left:46.6px">1</div><div class="abs dg" style="left:67.7px">.</div><div class="abs dg" style="left:79.6px;transform:scaleX(0.86)">9</div>
<div id="pct" class="abs">%</div>
<div id="para" class="abs"><div class="pl">The global project portfolio</div><div class="pl">management market is</div><div class="pl">expected to be worth USD</div><div class="pl">13.7 billion by 2029, growing</div><div class="pl">at a CAGR of 11.9% during the</div><div class="pl last">forecast period.</div></div>

<svg class="abs" style="left:0;top:0" width="895" height="482">
<line x1="315" y1="404" x2="890" y2="404" stroke="#dedede" stroke-width="1.5"/>
<rect x="372" y="280" width="79" height="5" fill="#70ad47"/>
<rect x="372" y="285" width="79" height="7" fill="#7f7f7f"/>
<rect x="372" y="292" width="79" height="30.5" fill="#f79646"/>
<rect x="372" y="322.5" width="79" height="37.5" fill="#3a78b8"/>
<rect x="372" y="360.3" width="79" height="43.2" fill="#b83b33" stroke="#82261f" stroke-width="0.9"/>
<rect x="564" y="262" width="78" height="5.3" fill="#70ad47"/>
<rect x="564" y="267.3" width="78" height="8.5" fill="#7f7f7f"/>
<rect x="564" y="275.8" width="78" height="36.2" fill="#f79646"/>
<rect x="564" y="312" width="78" height="43" fill="#3a78b8"/>
<rect x="564" y="355.3" width="78" height="48.2" fill="#b83b33" stroke="#82261f" stroke-width="0.9"/>
<rect x="755" y="155" width="79" height="11" fill="#70ad47"/>
<rect x="755" y="166" width="79" height="18" fill="#7f7f7f"/>
<rect x="755" y="184" width="79" height="72" fill="#f79646"/>
<rect x="755" y="256" width="79" height="72" fill="#3a78b8"/>
<rect x="755.3" y="328.3" width="78.7" height="75.2" fill="#b83b33" stroke="#82261f" stroke-width="0.9"/>
<line x1="651" y1="252" x2="751" y2="158" stroke="#d9d9d9" stroke-width="1.2"/>
<path d="M755 154.3 L747.5 156.5 L752.5 161.5 Z" fill="#d9d9d9"/>
<circle cx="701.6" cy="201.6" r="26.5" fill="#f7830e"/>
</svg>
<div class="abs" style="left:680.5px;top:190px;font-size:17px;font-weight:bold;color:#fff8e6;white-space:nowrap;letter-spacing:0.6px">11.9<span style="font-size:11px;letter-spacing:0">%</span></div>

<div class="abs val" style="left:398.5px;top:245px;">6.9</div>
<div class="abs val" style="left:591px;top:233px;">7.8</div>
<div class="abs val" style="left:777px;top:126px;">13.7</div>
<div class="abs yr" style="left:396.5px;top:411px;">2023</div>
<div class="abs yr" style="left:588px;top:411px;">2024</div>
<div class="abs yr" style="left:779.5px;top:411px;">2029</div>

<div class="abs sq" style="left:346.2px;top:453.3px;width:7.8px;height:8.2px;background:#b83b33;box-shadow:inset 0 0 0 0.6px #9a2e28"></div>
<div class="abs leg" style="left:357px;">North America</div>
<div class="abs sq" style="left:450.6px;width:6.5px;height:6.7px;background:#3a78b8;box-shadow:inset 0 0 0 0.5px #2e6298"></div>
<div class="abs leg" style="left:460px;">Europe</div>
<div class="abs sq" style="left:515.1px;width:6.9px;height:6.5px;top:454.2px;background:#f79646"></div>
<div class="abs leg" style="left:524px;">Asia Pacific</div>
<div class="abs sq" style="left:602.2px;width:7.1px;height:6.7px;background:#7f7f7f"></div>
<div class="abs leg" style="left:612px;">Middle East &amp; Africa</div>
<div class="abs sq" style="left:739px;width:6px;height:6.7px;background:#70ad47;box-shadow:inset 0 0 0 0.5px #5a9038"></div>
<div class="abs leg" style="left:748px;">Latin America</div>
</body></html>
